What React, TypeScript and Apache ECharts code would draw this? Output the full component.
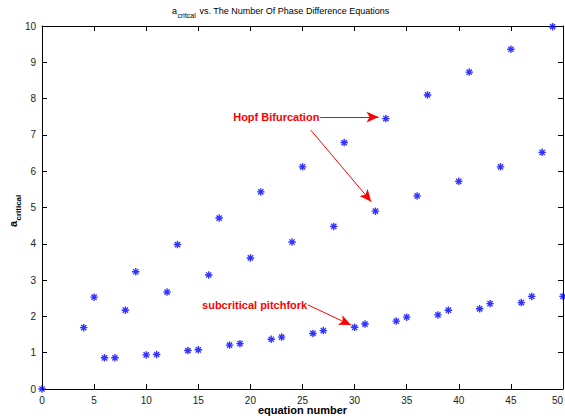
import React, { useEffect, useRef } from "react";
import * as echarts from "echarts";

const equationNumbers = [0, 4, 5, 6, 7, 8, 9, 10, 11, 12, 13, 14, 15, 16, 17, 18, 19, 20, 21, 22, 23, 24, 25, 26, 27, 28, 29, 30, 31, 32, 33, 34, 35, 36, 37, 38, 39, 40, 41, 42, 43, 44, 45, 46, 47, 48, 49, 50];
const aCritical = [0, 1.69, 2.53, 0.86, 0.86, 2.17, 3.23, 0.94, 0.95, 2.67, 3.98, 1.06, 1.08, 3.14, 4.71, 1.21, 1.25, 3.61, 5.43, 1.37, 1.43, 4.05, 6.12, 1.53, 1.61, 4.48, 6.79, 1.70, 1.79, 4.90, 7.45, 1.87, 1.98, 5.32, 8.10, 2.04, 2.17, 5.72, 8.73, 2.21, 2.35, 6.12, 9.36, 2.38, 2.55, 6.52, 9.98, 2.55];

const xTicks = [0, 5, 10, 15, 20, 25, 30, 35, 40, 45, 50];
const yTicks = [0, 1, 2, 3, 4, 5, 6, 7, 8, 9, 10];

const hopfLabel = "Hopf Bifurcation";
const hopfTextAnchor = [26.62, 7.49];
const hopfArrows = [
  [[26.7, 7.49], [32.3, 7.49]],
  [[25.8, 7.13], [31.6, 5.16]],
];
const pitchLabel = "subcritical pitchfork";
const pitchTextAnchor = [25.45, 2.32];
const pitchArrows = [[[25.5, 2.32], [29.65, 1.76]]];

const FONT = "'Liberation Sans', Arial, Helvetica, sans-serif";
const ASTERISK =
  "path://M0 4.1L10 4.1L10 5.9L0 5.9Z M4.1 0L5.9 0L5.9 10L4.1 10Z M2.14 0.86L9.14 7.86L7.86 9.14L0.86 2.14Z M7.86 0.86L9.14 2.14L2.14 9.14L0.86 7.86Z";

export default function App() {
  const ref = useRef<HTMLDivElement>(null);
  useEffect(() => {
    if (!ref.current) return;
    const chart = echarts.init(ref.current, undefined, { renderer: "svg" });
    const data = equationNumbers.map((x, i) => [x, aCritical[i]]);
    const axisCommon = {
      type: "value",
      axisLine: { show: true, onZero: false, lineStyle: { color: "#000", width: 1 } },
      axisTick: { show: true, inside: true, length: 5, lineStyle: { color: "#000", width: 1 } },
      splitLine: { show: false },
    };
    const arrowLines = [...hopfArrows, ...pitchArrows].map(([a, b]) => [
      { coord: a, symbol: "none" },
      { coord: b, symbol: "arrow" },
    ]);
    chart.setOption({
      animation: false,
      backgroundColor: "#fff",
      grid: { left: 42, right: 2, top: 26, bottom: 31, containLabel: false, outerBoundsMode: "none" },
      xAxis: [
        {
          ...axisCommon,
          position: "bottom",
          min: xTicks[0],
          max: xTicks[xTicks.length - 1],
          interval: 5,
          axisLabel: { color: "#222", fontSize: 10, fontFamily: FONT, margin: 6, alignMaxLabel: "right" },
        },
        {
          ...axisCommon,
          position: "top",
          min: xTicks[0],
          max: xTicks[xTicks.length - 1],
          interval: 5,
          axisLabel: { show: false },
        },
      ],
      yAxis: [
        {
          ...axisCommon,
          position: "left",
          min: yTicks[0],
          max: yTicks[yTicks.length - 1],
          interval: 1,
          axisLabel: { color: "#222", fontSize: 10, fontFamily: FONT, margin: 6 },
        },
        {
          ...axisCommon,
          position: "right",
          min: yTicks[0],
          max: yTicks[yTicks.length - 1],
          interval: 1,
          axisLabel: { show: false },
        },
      ],
      series: [
        {
          type: "scatter",
          xAxisIndex: 0,
          yAxisIndex: 0,
          data,
          symbol: ASTERISK,
          symbolSize: 7.5,
          itemStyle: { color: "#0000ff" },
          clip: false,
          silent: true,
          markLine: {
            silent: true,
            symbolSize: [8, 12],
            label: { show: false },
            lineStyle: { color: "#ff0000", width: 1, type: "solid" },
            emphasis: { disabled: true },
            data: arrowLines,
          },
        },
      ],
    });

    const p1 = chart.convertToPixel({ gridIndex: 0 }, hopfTextAnchor) as number[];
    const p2 = chart.convertToPixel({ gridIndex: 0 }, pitchTextAnchor) as number[];
    const annStyle = { fill: "#ff0000", font: `bold 11px ${FONT}`, textAlign: "right", textVerticalAlign: "middle" };
    chart.setOption({
      graphic: [
        { type: "text", x: 172, y: 11, style: { text: "a", fill: "#000", font: `9px ${FONT}`, textVerticalAlign: "middle" } },
        { type: "text", x: 177.5, y: 15.5, style: { text: "critcal", fill: "#000", font: `7px ${FONT}`, textVerticalAlign: "middle" } },
        {
          type: "text",
          x: 197,
          y: 11,
          style: { text: " vs. The Number Of Phase Difference Equations", fill: "#000", font: `9px ${FONT}`, textVerticalAlign: "middle" },
        },
        {
          type: "group",
          x: 13,
          y: 227,
          rotation: Math.PI / 2,
          children: [
            { type: "text", x: 0, y: 0, style: { text: "a", fill: "#000", font: `bold 11px ${FONT}`, textVerticalAlign: "middle" } },
            { type: "text", x: 6.5, y: 5.5, style: { text: "critical", fill: "#000", font: `bold 8px ${FONT}`, textVerticalAlign: "middle" } },
          ],
        },
        {
          type: "text",
          x: 302.5,
          y: 410,
          style: { text: "equation number", fill: "#000", font: `bold 11px ${FONT}`, textAlign: "center", textVerticalAlign: "middle" },
        },
        { type: "text", x: p1[0], y: p1[1], style: { ...annStyle, text: hopfLabel } },
        { type: "text", x: p2[0], y: p2[1], style: { ...annStyle, text: pitchLabel } },
      ],
    });
    return () => chart.dispose();
  }, []);
  return <div ref={ref} style={{ position: "fixed", left: 0, top: 0, width: 565, height: 420 }} />;
}
